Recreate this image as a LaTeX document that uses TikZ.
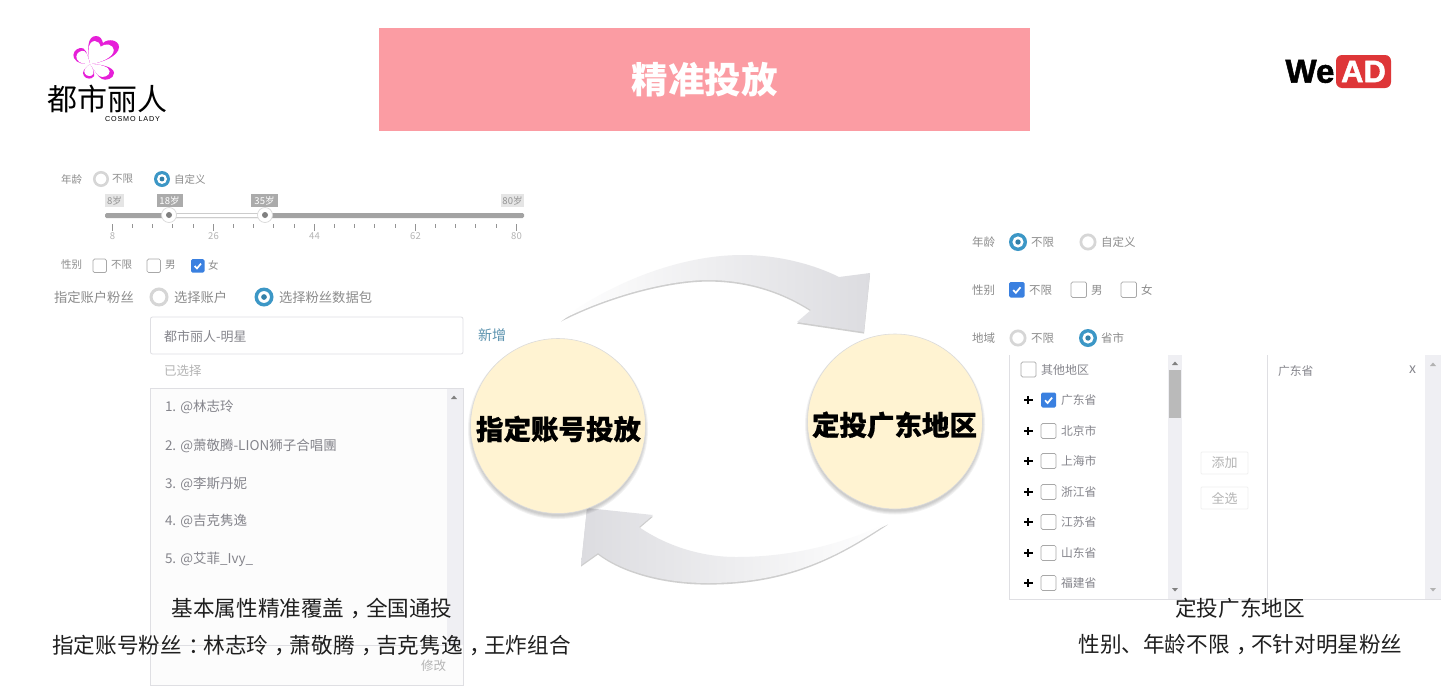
\documentclass[tikz,border=0pt]{standalone}
\usepackage{fontspec}
\setmainfont{Noto Sans CJK SC}
\newfontfamily\heavyfont{Noto Sans CJK SC}[BoldFeatures={FakeBold=0.7}]
\newfontfamily\weadfont{Liberation Sans}[BoldFeatures={FakeBold=1.5}]
\newfontfamily\cosmofont{Liberation Sans}[LetterSpace=12]
\definecolor{labelgrey}{HTML}{8C8C8C}
\definecolor{itemgrey}{HTML}{85858C}
\definecolor{palegrey}{HTML}{B4B4B4}
\definecolor{boxline}{HTML}{DFDFE3}
\definecolor{chkline}{HTML}{A8A8A8}
\definecolor{radioblue}{HTML}{3C97C6}
\definecolor{chkblue}{HTML}{3A80E0}
\definecolor{trackgrey}{HTML}{A3A3A3}
\definecolor{barbg}{HTML}{EFEFF3}
\definecolor{titlepink}{HTML}{FB9CA3}
\definecolor{circlefill}{HTML}{FFF3D2}
\definecolor{logomag}{HTML}{E61FD8}
\definecolor{adred}{HTML}{DE3638}
\definecolor{arrowend}{HTML}{DCDCE0}
\newcounter{tn}
% \lbl{x}{y}{size}{colour}{text}: text whose left edge is at x, centred on y
\newcommand\lbl[5]{\stepcounter{tn}\node[txt,text=#4,font=\fontsize{#3}{#3}\selectfont] (t\arabic{tn}) at (#1,#2) {#5};}
\newcommand\radioOn[3]{\fill[radioblue] (#1,#2) circle (#3);\fill[white] (#1,#2) circle (#3*0.62);\fill[radioblue!85!black] (#1,#2) circle (#3*0.3);}
\newcommand\radioOff[3]{\draw[draw=black!16,line width=#3*0.32,fill=white] (#1,#2) circle (#3*0.84);}
\newcommand\chkOff[3]{\draw[chkbox] (#1,#2) rectangle ++(#3,#3);}
\newcommand\chkOn[3]{\fill[chkblue,rounded corners=1.5] (#1,#2) rectangle ++(#3,#3);
  \draw[white,line width=1.7] (#1+#3*0.27,#2+#3*0.52) -- (#1+#3*0.44,#2+#3*0.7) -- (#1+#3*0.74,#2+#3*0.34);}
% full-width punctuation set in the middle of its em box, as the reference does
\newcommand\pmid[1]{\hspace*{0.3em}#1\hspace*{-0.3em}}
\tikzset{
  txt/.style={anchor=west,inner sep=0pt,outer sep=0pt},
  chkbox/.style={draw=chkline,line width=0.7,fill=white,rounded corners=1.5},
  panelline/.style={draw=boxline,line width=0.8},
  caption/.style={inner sep=0pt,text=black!88,font=\fontsize{21.6}{22}\selectfont},
  bigcircle/.style={circle,draw=black!14,line width=0.6,fill=circlefill,minimum size=175,inner sep=0pt},
  circletext/.style={inner sep=0pt,text=black,font=\heavyfont\bfseries\fontsize{27.5}{28}\selectfont},
  btnbox/.style={draw=black!6,line width=0.8,fill=white,rounded corners=1,minimum width=47,minimum height=22,inner sep=0pt,text=palegrey,font=\fontsize{13}{13}\selectfont},
  tagdark/.style={fill=black!33,text=white,inner sep=0pt,minimum height=13,font=\fontsize{9.5}{10}\selectfont},
  taglight/.style={fill=black!10,text=black!42,inner sep=0pt,minimum height=13,font=\fontsize{9.5}{10}\selectfont},
  tick/.style={draw=black!42,line width=0.6},
  tri/.style={fill=black!50},
  innerpetal/.style={fill=white,shift={(90,64)},scale=0.82,shift={(-90,-64)}}
}
\newcommand\petalA{(90,64) .. controls (87,50) and (87,36) .. (96,36) .. controls (100,36) and (102,39) .. (103,43)
   .. controls (108,38) and (119,40) .. (119,47) .. controls (119,56) and (102,63) .. (90,64) -- cycle}
\newcommand\petalB{(90,64) .. controls (87,52) and (85,47) .. (80,48) .. controls (75,49) and (72,54) .. (74,58)
   .. controls (77,64) and (84,64) .. (90,64) -- cycle}
\newcommand\petalC{(90,64) .. controls (101,64) and (114,67) .. (114,73) .. controls (114,79) and (105,81) .. (102,79)
   .. controls (98,77) and (95,71) .. (90,64) -- cycle}
\newcommand\petalD{(90,64) .. controls (85,68) and (81,72) .. (84,76) .. controls (86,79) and (92,80) .. (94,76)
   .. controls (95,73) and (93,69) .. (90,64) -- cycle}
\begin{document}
\begin{tikzpicture}[x=1pt,y=-1pt]
\fill[white] (0,0) rectangle (1455,686);
\useasboundingbox (0,0) rectangle (1455,686);

% ---- title banner
\node[fill=titlepink,minimum width=651,minimum height=103,inner sep=0pt,text=white,
  font=\bfseries\fontsize{36.5}{37}\selectfont] (title) at (704.5,79.5) {精准投放};

% ---- left logo
\fill[logomag] \petalA \petalB \petalC \petalD;
\fill[innerpetal] \petalA;
\fill[innerpetal] \petalB;
\fill[innerpetal] \petalC;
\fill[innerpetal] \petalD;
\lbl{47}{99}{30}{black}{都市丽人}
\stepcounter{tn}\node[txt,text=black,font=\cosmofont\fontsize{7.2}{8}\selectfont] (cosmo) at (105,119.5) {COSMO LADY};

% ---- WeAD logo
\stepcounter{tn}\node[txt,text=black,font=\weadfont\bfseries\fontsize{33}{33}\selectfont] (we) at (1285.5,71.5) {We};
\node[fill=adred,rounded corners=6,minimum width=55,minimum height=33,inner sep=0pt,text=white,
  font=\weadfont\bfseries\fontsize{31}{31}\selectfont] (ad) at (1363.5,71.5) {AD};

% ---- left form: age
\lbl{61}{179}{10.5}{labelgrey}{年龄}
\radioOff{101}{179}{8}
\lbl{112}{179}{10.5}{labelgrey}{不限}
\radioOn{162}{179}{8}
\lbl{174}{179}{10.5}{labelgrey}{自定义}
\fill[trackgrey,rounded corners=1.5] (105,213) rectangle (524,218);
\draw[draw=black!20,fill=white,line width=0.6] (170,213.5) rectangle (265,217.5);
\foreach \hx/\hn in {169/a,265/b}{
  \draw[draw=black!15,fill=white,line width=0.7] (\hx,215) circle (7.5);
  \fill[black!50] (\hx,215) circle (3);
}
\node[taglight,minimum width=19] (tag8) at (114.5,200.5) {8岁};
\node[tagdark,minimum width=26] (tag18) at (169.5,200.5) {18岁};
\node[tagdark,minimum width=27] (tag35) at (264.5,200.5) {35岁};
\node[taglight,minimum width=23] (tag80) at (512.5,200.5) {80岁};
\foreach \k in {0,...,20}{\draw[tick] ({112+20.2*\k},224) -- ++(0,4);}
\foreach \k/\v in {0/8,1/26,2/44,3/62,4/80}{
  \draw[tick] ({112+101*\k},224) -- ++(0,7);
  \node[inner sep=0pt,text=palegrey,font=\fontsize{9.5}{10}\selectfont] (sc\v) at ({112.5+101*\k},236) {\v};
}
% gender
\lbl{61}{265}{10.5}{labelgrey}{性别}
\chkOff{93}{259}{13.5}
\lbl{111}{265}{10.5}{labelgrey}{不限}
\chkOff{147}{259}{13.5}
\lbl{165}{265}{10.5}{labelgrey}{男}
\chkOn{191}{259}{13.5}
\lbl{208}{265}{10.5}{labelgrey}{女}
% account
\lbl{54}{297}{13.3}{labelgrey}{指定账户粉丝}
\radioOff{159}{297}{9.5}
\lbl{174}{297}{13.3}{labelgrey}{选择账户}
\radioOn{264}{297}{9.5}
\lbl{279}{297}{13.3}{labelgrey}{选择粉丝数据包}
\draw[panelline,fill=white,rounded corners=2] (150.5,317) rectangle (463,354);
\lbl{164}{337}{13}{itemgrey}{都市丽人-明星}
\lbl{478}{335}{14}{radioblue!60!labelgrey}{新增}
\lbl{164}{371}{12.5}{palegrey}{已选择}
% selected list
\draw[panelline,fill=black!1] (150.5,388) rectangle (463,685.5);
\fill[barbg] (447,388.5) rectangle (462.5,645);
\draw[panelline] (150.5,645) -- (447,645);
\fill[tri] (451,399) -- (457,399) -- (454,395.5) -- cycle;
\lbl{165}{407}{13.5}{itemgrey}{1. @林志玲}
\lbl{165}{446}{13.5}{itemgrey}{2. @萧敬腾-LION狮子合唱團}
\lbl{165}{484}{13.5}{itemgrey}{3. @李斯丹妮}
\lbl{165}{521}{13.5}{itemgrey}{4. @吉克隽逸}
\lbl{165}{559}{13.5}{itemgrey}{5. @艾菲\_Ivy\_}
\lbl{421}{666}{12.5}{palegrey}{修改}

% ---- right form
\lbl{972}{242}{11.5}{labelgrey}{年龄}
\radioOn{1018}{242}{9}
\lbl{1031}{242}{11.5}{labelgrey}{不限}
\radioOff{1088}{242}{8.5}
\lbl{1101}{242}{11.5}{labelgrey}{自定义}
\lbl{972}{290}{11.5}{labelgrey}{性别}
\chkOn{1009}{282}{15.5}
\lbl{1029}{290}{11.5}{labelgrey}{不限}
\chkOff{1071}{282}{15.5}
\lbl{1091}{290}{11.5}{labelgrey}{男}
\chkOff{1121}{282}{15.5}
\lbl{1141}{290}{11.5}{labelgrey}{女}
\lbl{972}{338}{11.5}{labelgrey}{地域}
\radioOff{1018}{338}{8.5}
\lbl{1031}{338}{11.5}{labelgrey}{不限}
\radioOn{1088}{338}{9}
\lbl{1101}{338}{11.5}{labelgrey}{省市}
% province list
\fill[barbg] (1168,355) rectangle (1182,599);
\fill[black!27] (1169,370) rectangle (1181,418);
\fill[barbg] (1425,355) rectangle (1441,599);
\draw[panelline] (1009.5,355) -- (1009.5,599.5) -- (1441,599.5);
\draw[panelline] (1267.5,355) -- (1267.5,599.5);
\fill[tri] (1172,365) -- (1178,365) -- (1175,361.5) -- cycle;
\fill[tri] (1172,588) -- (1178,588) -- (1175,591.5) -- cycle;
\fill[tri,fill=black!30] (1430,366) -- (1436,366) -- (1433,362.5) -- cycle;
\fill[tri,fill=black!30] (1430,588) -- (1436,588) -- (1433,591.5) -- cycle;
\chkOff{1021}{362}{15}
\lbl{1041}{370}{12}{itemgrey}{其他地区}
\foreach \ry/\by/\rn [count=\ri] in {400/392.5/广东省,431/423.5/北京市,461/453.5/上海市,492/484.5/浙江省,522/514.5/江苏省,553/545.5/山东省,583/575.5/福建省}{
  \draw[black,line width=1.6] (1024,\ry) -- (1032.5,\ry) (1028.2,{\ry-4.2}) -- (1028.2,{\ry+4.2});
  \ifnum\ri=1 \chkOn{1041}{\by}{15}\else \chkOff{1041}{\by}{15}\fi
  \node[txt,text=itemgrey,font=\fontsize{11.8}{12}\selectfont] (prov\ri) at (1061,\ry) {\rn};
}
\lbl{1278}{371}{11.8}{itemgrey}{广东省}
\lbl{1409}{369.5}{14}{itemgrey}{x}
\node[btnbox] (addbtn) at (1224.5,463) {添加};
\node[btnbox] (allbtn) at (1224.5,498) {全选};

% ---- arrows
\newcommand\toparrow{(561,320) .. controls (610,283) and (680,255) .. (742,255)
  .. controls (780,255) and (815,265) .. (839,277) -- (870,273) -- (864,332) -- (797,322) -- (811,310)
  .. controls (780,290) and (745,280) .. (708,280) .. controls (670,280) and (610,295) .. (561,320) -- cycle}
\newcommand\botarrow{(888,523) .. controls (840,555) and (790,583) .. (708,583)
  .. controls (660,583) and (620,570) .. (598,553) -- (581,565) -- (587,508) -- (653,515) -- (639,527)
  .. controls (665,545) and (700,557) .. (736,557) .. controls (790,557) and (840,545) .. (888,523) -- cycle}
\fill[black!55,opacity=0.35,yshift=-1.6pt] \toparrow;
\shade[left color=white,right color=arrowend] \toparrow;
\fill[black!55,opacity=0.35,yshift=-1.6pt] \botarrow;
\shade[right color=white,left color=arrowend] \botarrow;

% ---- circles, with soft shadows below
\foreach \s in {3,2,1,0}{
  \fill[black,opacity=0.05] (558,429) circle ({87+\s});
  \fill[black,opacity=0.05] (895,424.5) circle ({87+\s});
}
\node[bigcircle] (c1) at (558,426) {};
\node[bigcircle] (c2) at (895,421.5) {};
\node[circletext] (c1t) at (558.5,429) {指定账号投放};
\node[circletext] (c2t) at (894.5,425) {定投广东地区};

% ---- captions
\node[caption] (cap1) at (312,608) {基本属性精准覆盖\pmid{，}全国通投};
\node[caption] (cap2) at (311.5,645) {指定账号粉丝\pmid{：}林志玲\pmid{，}萧敬腾\pmid{，}吉克隽逸\pmid{，}王炸组合};
\node[caption] (cap3) at (1240,608) {定投广东地区};
\node[caption] (cap4) at (1240.5,645) {性别、年龄不限\pmid{，}不针对明星粉丝};
\end{tikzpicture}
\end{document}
